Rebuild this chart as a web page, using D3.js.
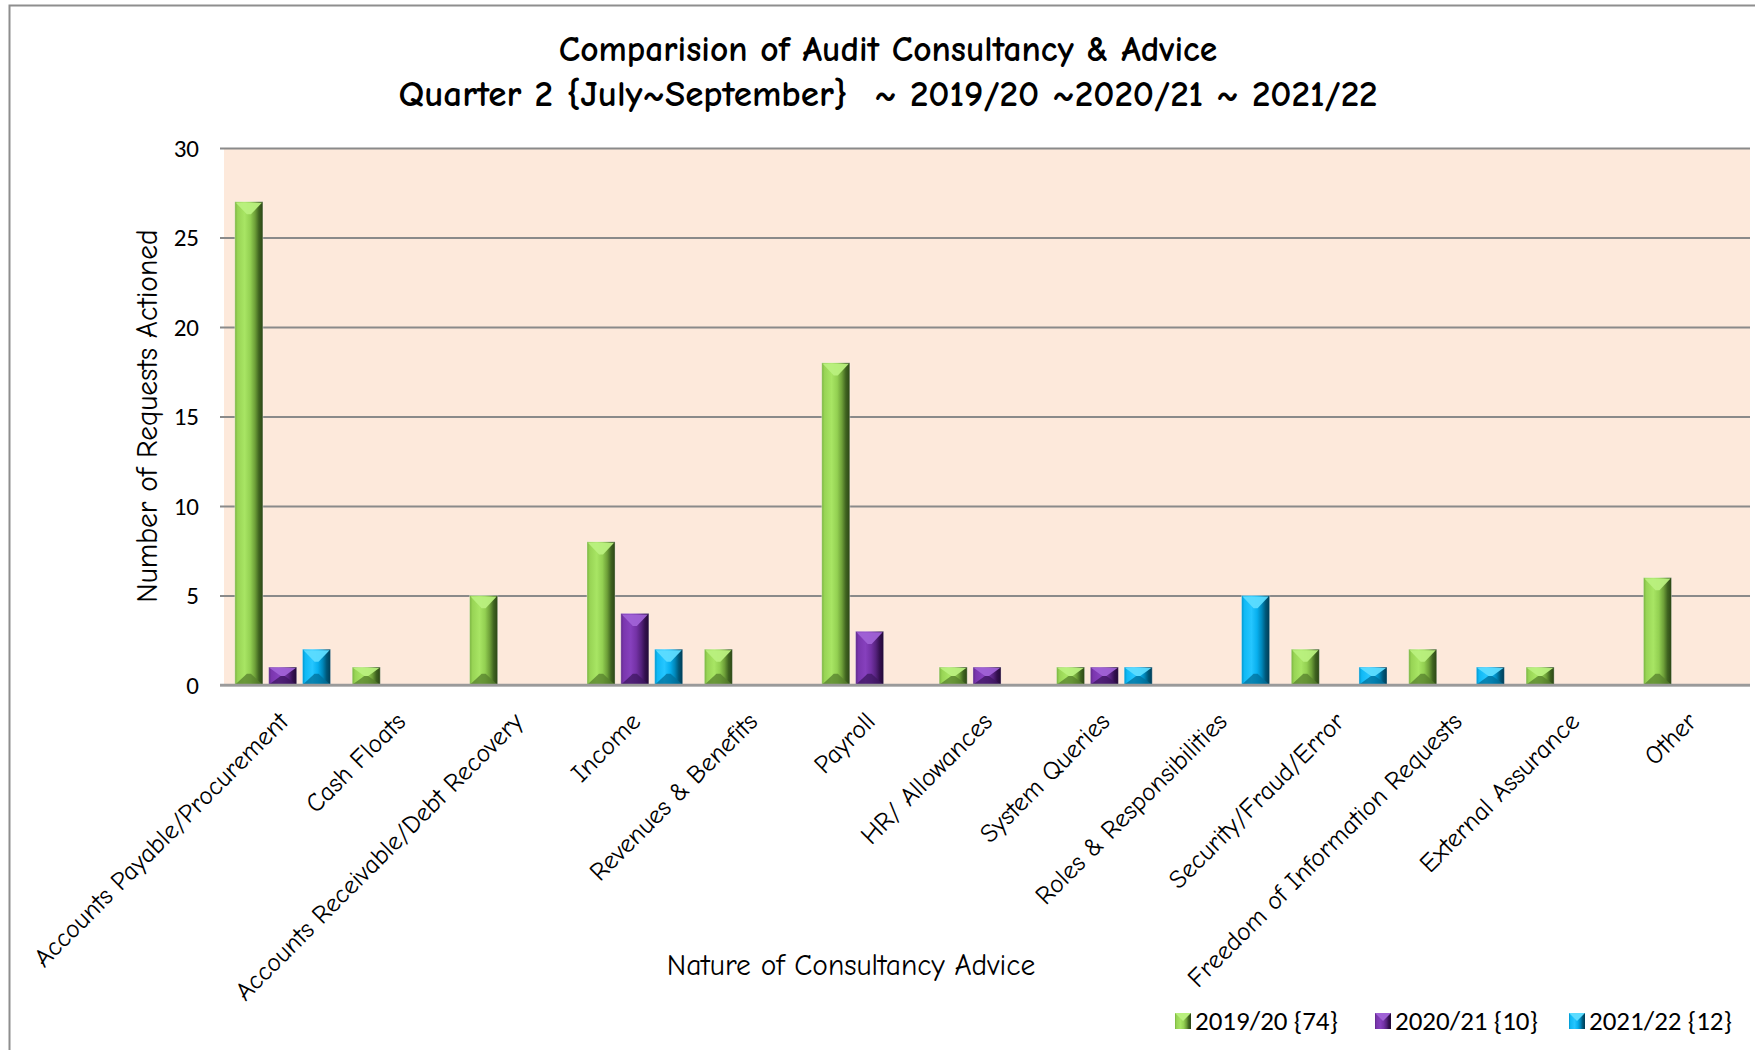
<!DOCTYPE html>
<html>
<head>
<meta charset="utf-8">
<script src="https://cdn.jsdelivr.net/npm/d3@7"></script>
<style>
  body { margin: 0; background: #fff; }
  svg { display: block; }
</style>
</head>
<body>
<svg id="chart"></svg>
<script>
const categories = [
  'Accounts Payable/Procurement',
  'Cash Floats',
  'Accounts Receivable/Debt Recovery',
  'Income',
  'Revenues & Benefits',
  'Payroll',
  'HR/ Allowances',
  'System Queries',
  'Roles & Responsibilities',
  'Security/Fraud/Error',
  'Freedom of Information Requests',
  'External Assurance',
  'Other',
];
const seriesNames = ['2019/20 {74}', '2020/21 {10}', '2021/22 {12}'];
const values2019 = [27, 1, 5, 8, 2, 18, 1, 1, 0, 2, 2, 1, 6];
const values2020 = [1, 0, 0, 4, 0, 3, 1, 1, 0, 0, 0, 0, 0];
const values2021 = [2, 0, 0, 2, 0, 0, 0, 1, 5, 1, 1, 0, 0];
const yTicks = [0, 5, 10, 15, 20, 25, 30];

const width = 1755;
const height = 1050;
const margin = { top: 148, right: 5, bottom: 365, left: 224 };
const INNER_WIDTH = width - margin.left - margin.right;
const INNER_HEIGHT = height - margin.top - margin.bottom;

const COMIC = "'Comic Sans MS', 'Comic Neue', 'DejaVu Sans', sans-serif";
const CALIBRI = "Calibri, Carlito, 'Open Sans', 'Noto Sans', sans-serif";

// colours per series: light bevel, dark bevel, gradient stops across the bar
const palette = [
  { light: '#b9f07e', dark: '#557f2c', stops: ['#79b23f', '#98d455', '#a8e564', '#93d052', '#6d9f38', '#3f6320', '#2b4515'] },
  { light: '#a062d6', dark: '#3e1760', stops: ['#5f2888', '#7a36ae', '#8640bd', '#7432a6', '#56227e', '#34104f', '#220a36'] },
  { light: '#5ddcff', dark: '#006f99', stops: ['#0095cc', '#10b9f5', '#25c6ff', '#08b0ef', '#0087ba', '#005778', '#003c55'] },
];

const data = categories.map((name, i) => {
  return {
    name,
    values: [values2019[i], values2020[i], values2021[i]],
  };
});

const svg = d3.select('#chart').attr('width', width).attr('height', height);

svg.append('rect')
  .attr('width', width)
  .attr('height', height)
  .attr('fill', '#fff');

// outer chart border (right/bottom edges fall off the picture)
svg.append('rect')
  .attr('x', 9.5)
  .attr('y', 5.5)
  .attr('width', width + 20)
  .attr('height', height + 20)
  .attr('fill', 'none')
  .attr('stroke', '#8e8e8e')
  .attr('stroke-width', 2);

const defs = svg.append('defs');
palette.forEach((p, i) => {
  const grad = defs.append('linearGradient')
    .attr('id', `bar-grad-${i}`)
    .attr('x1', '0%').attr('x2', '100%')
    .attr('y1', '0%').attr('y2', '0%');
  const offsets = [0, 0.1, 0.35, 0.55, 0.72, 0.86, 1];
  grad.selectAll('stop')
    .data(p.stops)
    .enter()
    .append('stop')
    .attr('offset', (d, j) => `${offsets[j] * 100}%`)
    .attr('stop-color', d => d);
});

const x0 = d3.scaleBand()
  .domain(categories)
  .range([0, INNER_WIDTH])
  .padding(0);

const x1 = d3.scaleBand()
  .domain([0, 1, 2])
  .range([0, x0.bandwidth()])
  .paddingInner(0.17)
  .paddingOuter(0.32);

const y = d3.scaleLinear().domain([0, 30]).range([INNER_HEIGHT, 0]);

const g = svg.append('g')
  .attr('transform', `translate(${margin.left},${margin.top})`);

g.append('rect')
  .attr('width', INNER_WIDTH)
  .attr('height', INNER_HEIGHT)
  .attr('fill', '#fde9db');

// Y axis with gridlines
const yAxis = g.append('g')
  .attr('transform', 'translate(-4,0)')
  .call(d3.axisLeft(y).tickValues(yTicks).tickSize(-(INNER_WIDTH + 4)).tickPadding(21));

yAxis.select('.domain').remove();
yAxis.selectAll('.tick line')
  .attr('stroke', '#8a8a8a')
  .attr('stroke-width', 2);
yAxis.selectAll('.tick text')
  .attr('font-family', CALIBRI)
  .attr('font-size', 25)
  .attr('fill', '#000');

// bars
const groups = g.selectAll('.cat')
  .data(data)
  .enter()
  .append('g')
  .attr('class', 'cat')
  .attr('transform', d => `translate(${x0(d.name)},0)`);

const bars = groups.selectAll('.bar')
  .data(d => d.values.map((v, i) => ({ v, i })).filter(b => b.v > 0))
  .enter()
  .append('g')
  .attr('class', 'bar');

bars.append('rect')
  .attr('x', d => x1(d.i))
  .attr('y', d => y(d.v))
  .attr('width', x1.bandwidth())
  .attr('height', d => y(0) - y(d.v))
  .attr('fill', d => `url(#bar-grad-${d.i})`)
  .attr('stroke', 'rgba(255,255,255,0.35)')
  .attr('stroke-width', 1);

// top bevel facet
bars.append('polygon')
  .attr('points', d => {
    const bx = x1(d.i);
    const w = x1.bandwidth();
    const top = y(d.v);
    const h = y(0) - top;
    const b = Math.min(w * 0.45, h / 2);
    return [
      [bx + 1, top + 1], [bx + w - 1, top + 1],
      [bx + w / 2 + 2, top + b], [bx + w / 2 - 2, top + b],
    ].join(' ');
  })
  .attr('fill', d => palette[d.i].light)
  .attr('opacity', 0.95);

// bottom bevel facet
bars.append('polygon')
  .attr('points', d => {
    const bx = x1(d.i);
    const w = x1.bandwidth();
    const top = y(d.v);
    const h = y(0) - top;
    const b = Math.min(w * 0.4, h / 2);
    const bot = y(0);
    return [
      [bx + 1, bot - 1], [bx + w - 1, bot - 1],
      [bx + w / 2 + 2, bot - b], [bx + w / 2 - 2, bot - b],
    ].join(' ');
  })
  .attr('fill', d => palette[d.i].dark)
  .attr('opacity', 0.75);

// X axis baseline
g.append('line')
  .attr('x1', -4)
  .attr('x2', INNER_WIDTH)
  .attr('y1', INNER_HEIGHT)
  .attr('y2', INNER_HEIGHT)
  .attr('stroke', '#9a9a9a')
  .attr('stroke-width', 2.5);

// category labels
g.selectAll('.cat-label')
  .data(categories)
  .enter()
  .append('text')
  .attr('class', 'cat-label')
  .attr('transform', d => `translate(${x0(d) + x0.bandwidth() / 2 + 7},${INNER_HEIGHT + 38}) rotate(-45)`)
  .attr('text-anchor', 'end')
  .attr('font-family', COMIC)
  .attr('font-size', 26)
  .attr('fill', '#000')
  .text(d => d);

// titles
const title = svg.append('text')
  .attr('text-anchor', 'middle')
  .attr('font-family', COMIC)
  .attr('font-weight', 'bold')
  .attr('fill', '#000');
title.append('tspan').attr('x', 888).attr('y', 61)
  .attr('font-size', 35.5)
  .text('Comparision of Audit Consultancy & Advice');
title.append('tspan').attr('x', 888).attr('y', 106)
  .attr('font-size', 37)
  .attr('xml:space', 'preserve')
  .text('Quarter 2 {July~September}  ~ 2019/20 ~2020/21 ~ 2021/22');

svg.append('text')
  .attr('transform', 'translate(157,416) rotate(-90)')
  .attr('text-anchor', 'middle')
  .attr('font-family', COMIC)
  .attr('font-size', 29.5)
  .attr('fill', '#000')
  .text('Number of Requests Actioned');

svg.append('text')
  .attr('x', 851)
  .attr('y', 975)
  .attr('text-anchor', 'middle')
  .attr('font-family', COMIC)
  .attr('font-size', 29.5)
  .attr('fill', '#000')
  .text('Nature of Consultancy Advice');

// legend
const legendX = [1175, 1375, 1569];
const legend = svg.selectAll('.legend')
  .data(seriesNames)
  .enter()
  .append('g')
  .attr('class', 'legend')
  .attr('transform', (d, i) => `translate(${legendX[i]},1021)`);

legend.append('rect')
  .attr('x', 0)
  .attr('y', -8)
  .attr('width', 16)
  .attr('height', 16)
  .attr('fill', (d, i) => `url(#bar-grad-${i})`);

legend.append('polygon')
  .attr('points', '0,-8 16,-8 8,0')
  .attr('fill', (d, i) => palette[i].light);

legend.append('text')
  .attr('x', 20)
  .attr('y', 0)
  .attr('dy', '0.35em')
  .attr('font-family', CALIBRI)
  .attr('font-size', 27)
  .attr('fill', '#000')
  .text(d => d);
</script>
</body>
</html>
